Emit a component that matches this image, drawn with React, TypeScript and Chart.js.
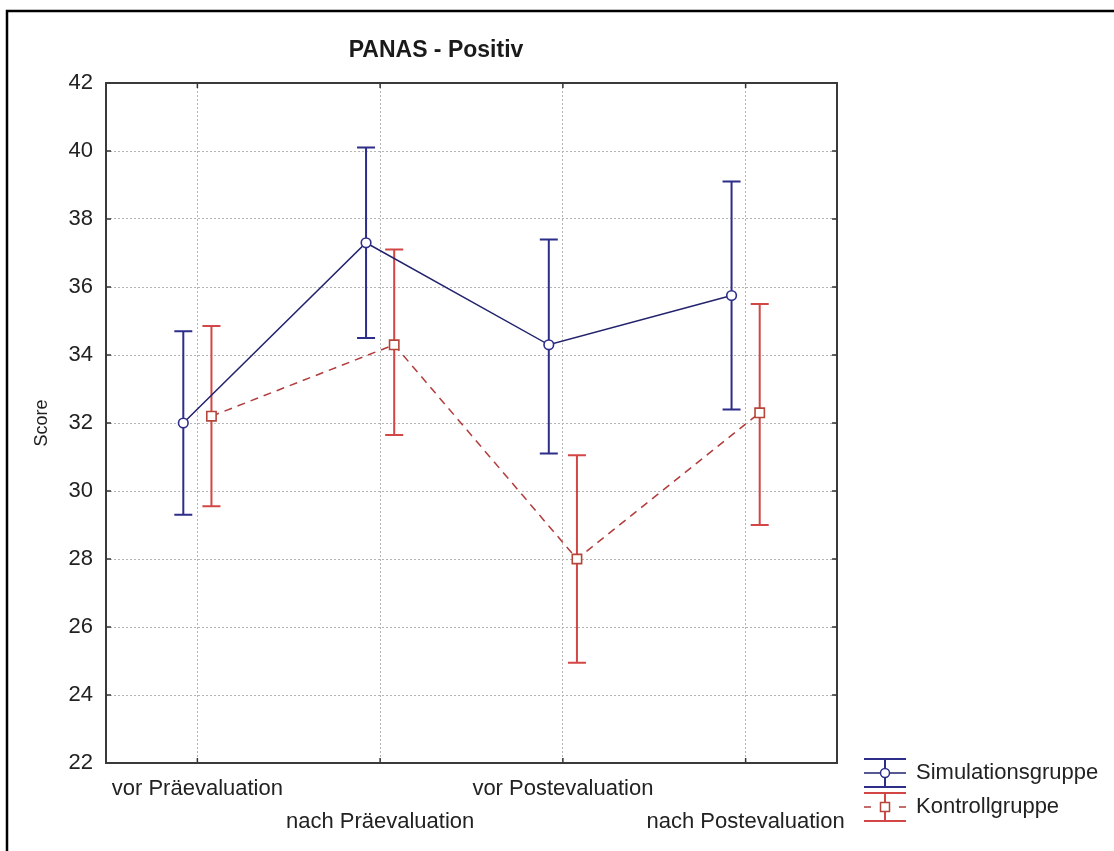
import React, { useEffect, useRef } from "react";
import { Chart, registerables } from "chart.js";

Chart.register(...registerables);

// ---------- data ----------
const categories = ["vor Präevaluation", "nach Präevaluation", "vor Postevaluation", "nach Postevaluation"];
const seriesNames = ["Simulationsgruppe", "Kontrollgruppe"];
const simMean = [32.0, 37.3, 34.3, 35.75];
const simLow = [29.3, 34.5, 31.1, 32.4];
const simHigh = [34.7, 40.1, 37.4, 39.1];
const kontMean = [32.2, 34.3, 28.0, 32.3];
const kontLow = [29.55, 31.65, 24.95, 29.0];
const kontHigh = [34.85, 37.1, 31.05, 35.5];
const yMin = 22;
const yMax = 42;
const yStep = 2;
const chartTitle = "PANAS - Positiv";
const yTitle = "Score";

// ---------- style ----------
const FONT = "'Liberation Sans', Arial, sans-serif";
const DODGE = 0.077;
const BLUE_LINE = "#22226e";
const BLUE_BAR = "#2d2d8a";
const RED_LINE = "#b23c3c";
const RED_BAR = "#d24646";
const RED_MARK = "#b5453a";
const GRID = "#b4b4b4";

const series = [
  { name: seriesNames[0], mean: simMean, low: simLow, high: simHigh, dx: -DODGE, bar: BLUE_BAR },
  { name: seriesNames[1], mean: kontMean, low: kontLow, high: kontHigh, dx: DODGE, bar: RED_BAR },
];

const framePlugin = {
  id: "frame",
  beforeDraw(chart: any) {
    const { ctx, width, height } = chart;
    ctx.save();
    ctx.fillStyle = "#fff";
    ctx.fillRect(0, 0, width, height);
    ctx.strokeStyle = "#000";
    ctx.lineWidth = 2.5;
    ctx.beginPath();
    ctx.moveTo(7, height + 2);
    ctx.lineTo(7, 11);
    ctx.lineTo(width + 2, 11);
    ctx.stroke();
    ctx.restore();
  },
  afterDraw(chart: any) {
    const { ctx, chartArea: a, scales } = chart;
    ctx.save();
    // inner ticks
    ctx.strokeStyle = "#333";
    ctx.lineWidth = 1.5;
    ctx.beginPath();
    scales.x.ticks.forEach((t: any) => {
      const px = scales.x.getPixelForValue(t.value);
      ctx.moveTo(px, a.top);
      ctx.lineTo(px, a.top + 5);
      ctx.moveTo(px, a.bottom);
      ctx.lineTo(px, a.bottom - 5);
    });
    scales.y.ticks.forEach((t: any) => {
      const py = scales.y.getPixelForValue(t.value);
      ctx.moveTo(a.left, py);
      ctx.lineTo(a.left + 5, py);
      ctx.moveTo(a.right, py);
      ctx.lineTo(a.right - 5, py);
    });
    ctx.stroke();
    // plot frame
    ctx.strokeStyle = "#3a3a3a";
    ctx.lineWidth = 2;
    ctx.strokeRect(a.left, a.top, a.right - a.left, a.bottom - a.top);
    // title
    ctx.fillStyle = "#1a1a1a";
    ctx.font = `bold 23px ${FONT}`;
    ctx.textAlign = "center";
    ctx.textBaseline = "alphabetic";
    ctx.fillText(chartTitle, 436, 57);

    // legend
    const lx0 = 864, lx1 = 906, lc = 885;
    const drawSym = (yc: number, color: string, lineColor: string, dashed: boolean, marker: string, markColor: string) => {
      ctx.strokeStyle = color;
      ctx.lineWidth = 2;
      ctx.beginPath();
      ctx.moveTo(lx0, yc - 14); ctx.lineTo(lx1, yc - 14);
      ctx.moveTo(lx0, yc + 14); ctx.lineTo(lx1, yc + 14);
      ctx.moveTo(lc, yc - 14); ctx.lineTo(lc, yc + 14);
      ctx.stroke();
      ctx.strokeStyle = lineColor;
      ctx.lineWidth = 1.5;
      ctx.beginPath();
      if (dashed) {
        ctx.moveTo(lx0, yc); ctx.lineTo(lx0 + 7, yc);
        ctx.moveTo(lx1 - 7, yc); ctx.lineTo(lx1, yc);
      } else {
        ctx.moveTo(lx0, yc); ctx.lineTo(lx1, yc);
      }
      ctx.stroke();
      ctx.fillStyle = "#fff";
      ctx.strokeStyle = markColor;
      ctx.lineWidth = 1.5;
      ctx.beginPath();
      if (marker === "circle") ctx.arc(lc, yc, 4.5, 0, Math.PI * 2);
      else ctx.rect(lc - 4.5, yc - 4.5, 9, 9);
      ctx.fill();
      ctx.stroke();
    };
    drawSym(773, BLUE_BAR, BLUE_LINE, false, "circle", BLUE_BAR);
    drawSym(807, RED_BAR, RED_LINE, true, "rect", RED_MARK);
    ctx.fillStyle = "#222";
    ctx.font = `22px ${FONT}`;
    ctx.textAlign = "left";
    ctx.textBaseline = "middle";
    ctx.fillText(seriesNames[0], 916, 773);
    ctx.fillText(seriesNames[1], 916, 807);
    ctx.restore();
  },
};

const errorBarPlugin = {
  id: "errorBars",
  beforeDatasetsDraw(chart: any) {
    const { ctx, scales } = chart;
    ctx.save();
    series.forEach((s) => {
      ctx.strokeStyle = s.bar;
      ctx.lineWidth = 2;
      ctx.beginPath();
      s.low.forEach((lo, i) => {
        const px = scales.x.getPixelForValue(i + s.dx);
        const yl = scales.y.getPixelForValue(lo);
        const yh = scales.y.getPixelForValue(s.high[i]);
        ctx.moveTo(px, yl); ctx.lineTo(px, yh);
        ctx.moveTo(px - 9, yl); ctx.lineTo(px + 9, yl);
        ctx.moveTo(px - 9, yh); ctx.lineTo(px + 9, yh);
      });
      ctx.stroke();
    });
    ctx.restore();
  },
};

export default function App() {
  const ref = useRef<HTMLCanvasElement | null>(null);

  useEffect(() => {
    if (!ref.current) return;
    Chart.defaults.font.family = FONT;
    const chart = new Chart(ref.current, {
      type: "line",
      data: {
        datasets: [
          {
            label: seriesNames[0],
            data: simMean.map((v, i) => ({ x: i - DODGE, y: v })),
            borderColor: BLUE_LINE,
            borderWidth: 1.5,
            pointStyle: "circle",
            pointRadius: 4.8,
            pointBackgroundColor: "#fff",
            pointBorderColor: BLUE_BAR,
            pointBorderWidth: 1.6,
            tension: 0,
          },
          {
            label: seriesNames[1],
            data: kontMean.map((v, i) => ({ x: i + DODGE, y: v })),
            borderColor: RED_LINE,
            borderWidth: 1.5,
            borderDash: [8, 6],
            pointStyle: "rect",
            pointRadius: 6.6,
            pointBackgroundColor: "#fff",
            pointBorderColor: RED_MARK,
            pointBorderWidth: 1.6,
            tension: 0,
          },
        ],
      },
      options: {
        responsive: false,
        animation: false,
        layout: { padding: { top: 83, right: 277, left: 0, bottom: 0 } },
        plugins: {
          legend: { display: false },
          title: { display: false },
          tooltip: { enabled: false },
        },
        scales: {
          x: {
            type: "linear",
            min: -0.5,
            max: categories.length - 0.5,
            afterBuildTicks: (s: any) => {
              s.ticks = categories.map((_, i) => ({ value: i }));
            },
            afterFit: (s: any) => {
              s.height = 88;
            },
            grid: { color: GRID, lineWidth: 1, drawTicks: false },
            border: { display: false, dash: [2, 2] },
            ticks: {
              padding: 9,
              autoSkip: false,
              maxRotation: 0,
              color: "#222",
              font: { size: 22, family: FONT, lineHeight: 1.5 },
              callback: (v: any) => {
                const i = Math.round(Number(v));
                const lab = categories[i];
                if (lab === undefined) return "";
                return i % 2 === 1 ? ["", lab] : lab;
              },
            },
          },
          y: {
            type: "linear",
            min: yMin,
            max: yMax,
            afterFit: (s: any) => {
              s.width = 106;
            },
            grid: { color: GRID, lineWidth: 1, drawTicks: false },
            border: { display: false, dash: [2, 2] },
            ticks: {
              stepSize: yStep,
              padding: 13,
              color: "#222",
              font: { size: 22, family: FONT },
            },
            title: {
              display: true,
              text: yTitle,
              color: "#222",
              font: { size: 18, family: FONT },
              padding: { top: 31, bottom: 0 },
            },
          },
        },
      },
      plugins: [framePlugin, errorBarPlugin],
    } as any);
    return () => chart.destroy();
  }, []);

  return (
    <div style={{ position: "fixed", left: 0, top: 0, width: 1114, height: 851, background: "#fff" }}>
      <canvas ref={ref} width={1114} height={851} style={{ display: "block" }} />
    </div>
  );
}
